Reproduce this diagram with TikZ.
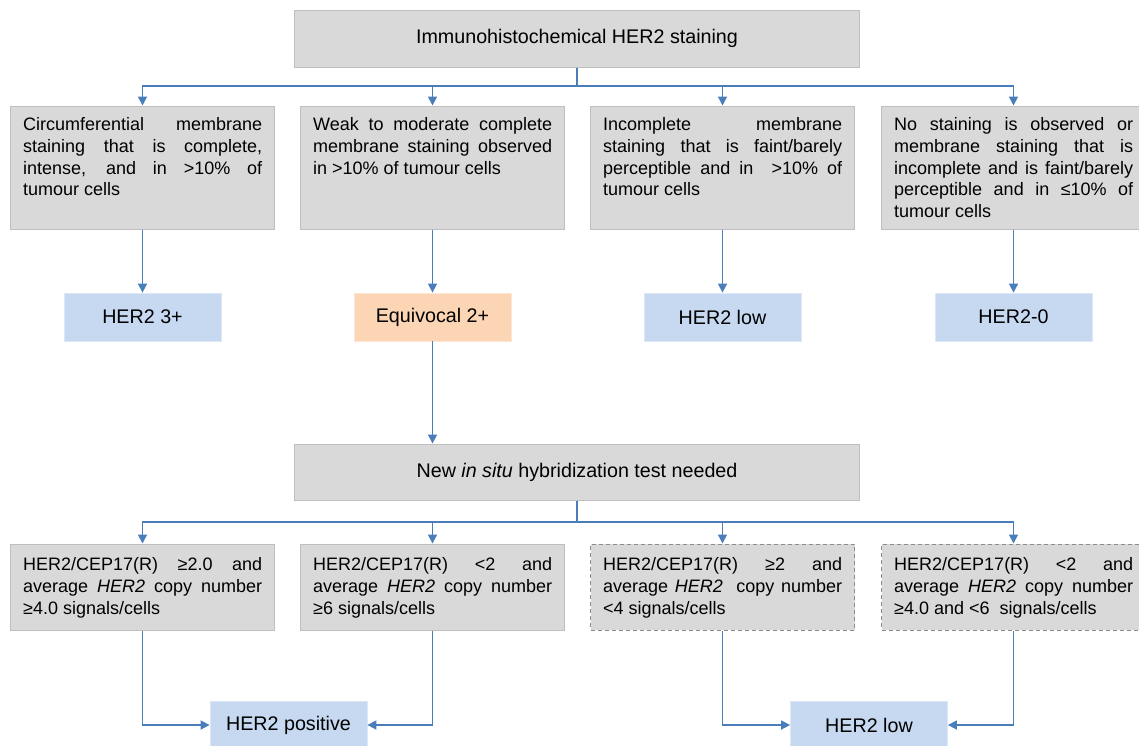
\documentclass[tikz,border=0pt]{standalone}
\usepackage{fontspec}
\setmainfont{Liberation Sans}
\usetikzlibrary{arrows.meta,calc}
\definecolor{boxgray}{HTML}{D9D9D9}
\definecolor{boxline}{HTML}{BFBFBF}
\definecolor{dashline}{HTML}{8C8C8C}
\definecolor{lblue}{HTML}{C6D9F1}
\definecolor{lorange}{HTML}{FCD5B4}
\definecolor{arrblue}{HTML}{4A7EBB}
\hbadness=10000
\hyphenpenalty=10000
\exhyphenpenalty=10000
\tolerance=10000
\begin{document}
\begin{tikzpicture}[x=1pt,y=-1pt,
  graybox/.style={draw=boxline,fill=boxgray,line width=1pt,minimum width=264pt,minimum height=123pt,inner sep=0pt},
  headbox/.style={draw=boxline,fill=boxgray,line width=1pt,minimum width=565pt,minimum height=57pt,inner sep=0pt,font=\fontsize{19.7}{24}\selectfont},
  dashbox/.style={draw=dashline,fill=boxgray,line width=1pt,dash pattern=on 4pt off 3pt,minimum width=264pt,minimum height=86pt,inner sep=0pt},
  bluebox/.style={draw=lblue!60!white,fill=lblue,line width=0.8pt,minimum width=157pt,minimum height=48pt,inner sep=0pt,font=\fontsize{19.7}{24}\selectfont},
  orangebox/.style={bluebox,draw=lorange!60!white,fill=lorange},
  body/.style={anchor=north west,inner sep=0pt,text width=239pt,align=justify,font=\fontsize{18}{21.7}\selectfont},
  arr/.style={draw=arrblue,line width=1.6pt,-{Triangle[length=9pt,width=9pt]}}
]
\path[use as bounding box,clip] (0,0) rectangle (1139,745);

% top
\node[headbox] (top) at (577,38.5) {\raisebox{-1pt}{Immunohistochemical HER2 staining}};
\coordinate (b1) at (577,86);

% row 1 boxes
\node[graybox] (c1) at (142.5,167.5) {};
\node[graybox] (c2) at (432.5,167.5) {};
\node[graybox] (c3) at (722.5,167.5) {};
\node[graybox] (c4) at (1013.5,167.5) {};

\node[body] (t1) at ([xshift=13pt,yshift=-12pt]c1.north west) {Circumferential membrane\linebreak staining that is complete,\linebreak intense, and in >10\% of\linebreak tumour cells};
\node[body] (t2) at ([xshift=13pt,yshift=-12pt]c2.north west) {Weak to moderate complete\linebreak membrane staining observed\linebreak in >10\% of tumour cells};
\node[body] (t3) at ([xshift=13pt,yshift=-12pt]c3.north west) {Incomplete membrane\linebreak staining that is faint/barely\linebreak perceptible and in ~>10\% of\linebreak tumour cells};
\node[body] (t4) at ([xshift=13pt,yshift=-12pt]c4.north west) {No staining is observed or\linebreak membrane staining that is\linebreak incomplete and is faint/barely\linebreak perceptible and in ≤10\% of\linebreak tumour cells};

% row 2 results
\node[bluebox] (r1) at (142.5,317) {HER2 3+};
\node[orangebox] (r2) at (432.5,317) {Equivocal 2+};
\node[bluebox] (r3) at (722.5,317) {HER2 low};
\node[bluebox] (r4) at (1013.5,317) {HER2-0};

% ISH box
\node[headbox,minimum height=56pt] (ish) at (577,472) {\raisebox{-1pt}{New \textit{in situ} hybridization test needed}};
\coordinate (b2) at (577,522);

% row 4 boxes
\node[graybox,minimum height=86pt] (d1) at (142.5,587) {};
\node[graybox,minimum height=86pt] (d2) at (432.5,587) {};
\node[dashbox] (d3) at (722.5,587) {};
\node[dashbox] (d4) at (1013.5,587) {};

\node[body] (u1) at ([xshift=13pt,yshift=-14pt]d1.north west) {HER2/CEP17(R) ≥2.0 and\linebreak average \textit{HER2} copy number\linebreak ≥4.0 signals/cells};
\node[body] (u2) at ([xshift=13pt,yshift=-14pt]d2.north west) {HER2/CEP17(R) <2 and\linebreak average \textit{HER2} copy number\linebreak ≥6 signals/cells};
\node[body] (u3) at ([xshift=13pt,yshift=-14pt]d3.north west) {HER2/CEP17(R) ≥2 and\linebreak average \textit{HER2}~ copy number\linebreak <4 signals/cells};
\node[body] (u4) at ([xshift=13pt,yshift=-14pt]d4.north west) {HER2/CEP17(R) <2 and\linebreak average \textit{HER2} copy number\linebreak ≥4.0 and <6~ signals/cells};

% final results
\node[bluebox] (f1) at (288.5,725) {HER2 positive};
\node[bluebox] (f2) at (869,725) {HER2 low};

% connectors top
\draw[arr] (top.south) -- (b1) -| (c1.north);
\draw[arr] (top.south) -- (b1) -| (c2.north);
\draw[arr] (top.south) -- (b1) -| (c3.north);
\draw[arr] (top.south) -- (b1) -| (c4.north);

\draw[arr] (c1.south) -- (r1.north);
\draw[arr] (c2.south) -- (r2.north);
\draw[arr] (c3.south) -- (r3.north);
\draw[arr] (c4.south) -- (r4.north);

\draw[arr] (r2.south) -- (r2.south |- ish.north);

\draw[arr] (ish.south) -- (b2) -| (d1.north);
\draw[arr] (ish.south) -- (b2) -| (d2.north);
\draw[arr] (ish.south) -- (b2) -| (d3.north);
\draw[arr] (ish.south) -- (b2) -| (d4.north);

\draw[arr] (d1.south) |- (f1.west);
\draw[arr] (d2.south) |- (f1.east);
\draw[arr] (d3.south) |- (f2.west);
\draw[arr] (d4.south) |- (f2.east);
\end{tikzpicture}
\end{document}
